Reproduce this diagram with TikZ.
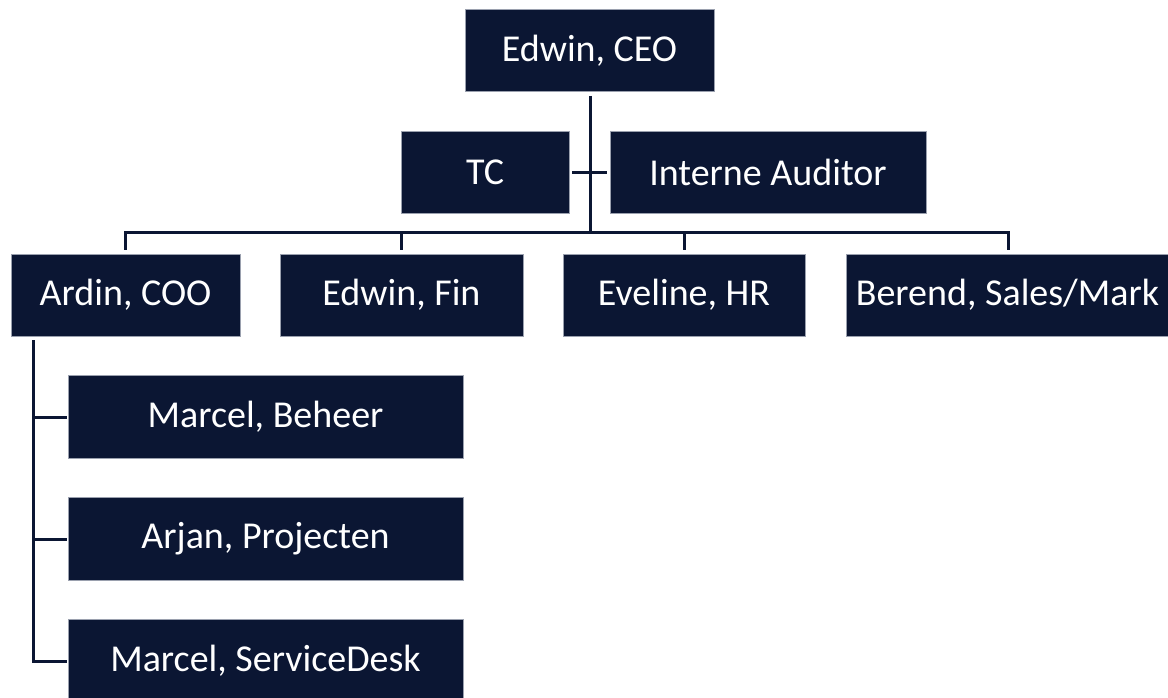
\documentclass[tikz,border=0pt]{standalone}
\usepackage{fontspec}
\setmainfont{Carlito}
\definecolor{navy}{HTML}{0B1633}
\definecolor{edge}{HTML}{9AA0AE}
\begin{document}
\begin{tikzpicture}[x=1pt,y=-1pt,
  box/.style={fill=navy,draw=edge,line width=0.6pt,text=white,inner sep=0pt,
    minimum height=82pt,font=\fontsize{38}{40}\selectfont},
  conn/.style={draw=navy,line width=3pt}]
\useasboundingbox (0,0) rectangle (1168,697);
\fill[white] (0,0) rectangle (1168,697);
\node[box,minimum width=249pt] (ceo) at (589.5,50.5) {Edwin, CEO};
\node[box,minimum width=168pt] (tc) at (485,172) {TC};
\node[box,minimum width=316pt] (aud) at (768,172) {Interne Auditor};
\node[box,minimum width=229pt] (coo) at (125.5,295) {Ardin, COO};
\node[box,minimum width=243pt] (fin) at (401.5,295) {Edwin, Fin};
\node[box,minimum width=242pt] (hr) at (684,295) {Eveline, HR};
\node[box,minimum width=323pt] (sales) at (1007.5,295) {Berend, Sales/Mark};
\node[box,minimum width=395pt,minimum height=83pt] (beheer) at (265.5,417) {Marcel, Beheer};
\node[box,minimum width=395pt,minimum height=83pt] (proj) at (265.5,539) {Arjan, Projecten};
\node[box,minimum width=395pt,minimum height=83pt] (sd) at (265.5,661) {Marcel, ServiceDesk};
\coordinate (bar) at (590,232.5);
\coordinate (spine) at (33,340);
% CEO down to bar
\draw[conn] ([xshift=0.5pt,yshift=-4pt]ceo.south) -- ([xshift=0.5pt]ceo.south |- bar);
% staff line
\draw[conn] ([xshift=3pt]tc.east) -- ([xshift=-3pt]aud.west);
% main bar with drops
\draw[conn] ([xshift=-0.5pt,yshift=4pt]coo.north) |- ([xshift=0.5pt]sales.north |- bar) -- ([xshift=0.5pt,yshift=4pt]sales.north);
\draw[conn] ([yshift=4pt]fin.north) -- (fin.north |- bar);
\draw[conn] ([yshift=4pt]hr.north) -- (hr.north |- bar);
% COO spine
\draw[conn] (spine) |- ([xshift=-1pt]sd.west);
\draw[conn] (spine |- beheer.west) -- ([xshift=-1pt]beheer.west);
\draw[conn] (spine |- proj.west) -- ([xshift=-1pt]proj.west);
\end{tikzpicture}
\end{document}
